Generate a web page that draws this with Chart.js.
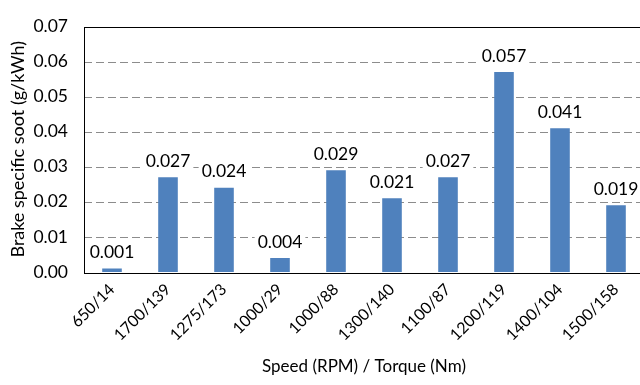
<!DOCTYPE html>
<html>
<head>
<meta charset="utf-8">
<script src="https://cdn.jsdelivr.net/npm/chart.js@4/dist/chart.umd.min.js"></script>
<style>
  html, body { margin: 0; padding: 0; background: #fff; overflow: hidden; }
  #wrap { width: 640px; height: 385px; overflow: hidden; }
  canvas { display: block; }
</style>
</head>
<body>
<div id="wrap"><canvas id="chart" width="646" height="385"></canvas></div>
<script>
// Operating points (engine speed / torque) and brake specific soot
const categories = ['650/14', '1700/139', '1275/173', '1000/29', '1000/88',
                    '1300/140', '1100/87', '1200/119', '1400/104', '1500/158'];
const soot = [0.001, 0.027, 0.024, 0.004, 0.029, 0.021, 0.027, 0.057, 0.041, 0.019];
const yTicks = [0, 0.01, 0.02, 0.03, 0.04, 0.05, 0.06, 0.07];

const FONT = 'Lato, "Liberation Sans", sans-serif';

// Dashed horizontal gridlines at the inner y ticks
const dashedGrid = {
  id: 'dashedGrid',
  beforeDatasetsDraw(chart) {
    const { ctx, chartArea: a, scales: { y } } = chart;
    ctx.save();
    ctx.strokeStyle = '#8c8c8c';
    ctx.lineWidth = 1.2;
    ctx.setLineDash([8, 4]);
    yTicks.slice(1, -1).forEach(v => {
      const py = Math.round(y.getPixelForValue(v)) + 0.5;
      ctx.beginPath();
      ctx.moveTo(a.left, py);
      ctx.lineTo(a.right, py);
      ctx.stroke();
    });
    ctx.restore();
  }
};

// Frame around the plotting area
const framePlugin = {
  id: 'frame',
  afterDraw(chart) {
    const { ctx, chartArea: a } = chart;
    ctx.save();
    ctx.strokeStyle = '#000';
    ctx.lineWidth = 1;
    ctx.strokeRect(Math.round(a.left) + 0.5, Math.round(a.top) + 0.5,
                   Math.round(a.right - a.left), Math.round(a.bottom - a.top));
    ctx.restore();
  }
};

// Value labels above each bar, on a white backing
const valueLabels = {
  id: 'valueLabels',
  afterDatasetsDraw(chart) {
    const { ctx } = chart;
    const meta = chart.getDatasetMeta(0);
    ctx.save();
    ctx.font = '17.5px ' + FONT;
    ctx.textAlign = 'center';
    ctx.textBaseline = 'middle';
    meta.data.forEach((bar, i) => {
      const txt = soot[i].toFixed(3);
      const w = ctx.measureText(txt).width;
      const cy = bar.y - 17;
      ctx.fillStyle = '#fff';
      ctx.fillRect(bar.x - w / 2 - 3, cy - 10, w + 6, 20);
      ctx.fillStyle = '#000';
      ctx.fillText(txt, bar.x, cy + 1);
    });
    ctx.restore();
  }
};

new Chart(document.getElementById('chart'), {
  type: 'bar',
  data: {
    labels: categories,
    datasets: [{
      data: soot,
      backgroundColor: '#4F81BD',
      borderWidth: 0,
      barPercentage: 1,
      categoryPercentage: 0.35
    }]
  },
  options: {
    responsive: false,
    animation: false,
    devicePixelRatio: 1,
    layout: { padding: { top: 17, right: 2, left: 0, bottom: 0 } },
    plugins: { legend: { display: false }, tooltip: { enabled: false } },
    scales: {
      x: {
        grid: { display: false, drawTicks: false },
        border: { display: false },
        ticks: {
          color: '#000',
          font: { family: FONT, size: 16 },
          minRotation: 45,
          maxRotation: 45,
          padding: 8,
          autoSkip: false
        },
        title: {
          display: true,
          text: 'Speed (RPM) / Torque (Nm)',
          color: '#000',
          font: { family: FONT, size: 17 },
          padding: { top: 0, bottom: 8 }
        },
        afterFit(scale) { scale.height = 113; }
      },
      y: {
        min: 0,
        max: 0.07,
        afterBuildTicks(scale) { scale.ticks = yTicks.map(v => ({ value: v })); },
        grid: { display: false, drawTicks: false },
        border: { display: false },
        ticks: {
          color: '#000',
          font: { family: FONT, size: 17.5 },
          padding: 16,
          callback: v => Number(v).toFixed(2)
        },
        title: {
          display: true,
          text: 'Brake specific soot (g/kWh)',
          color: '#000',
          font: { family: FONT, size: 18 },
          padding: { top: 7, bottom: 0 }
        },
        afterFit(scale) { scale.width = 84; }
      }
    }
  },
  plugins: [dashedGrid, framePlugin, valueLabels]
});
</script>
</body>
</html>
